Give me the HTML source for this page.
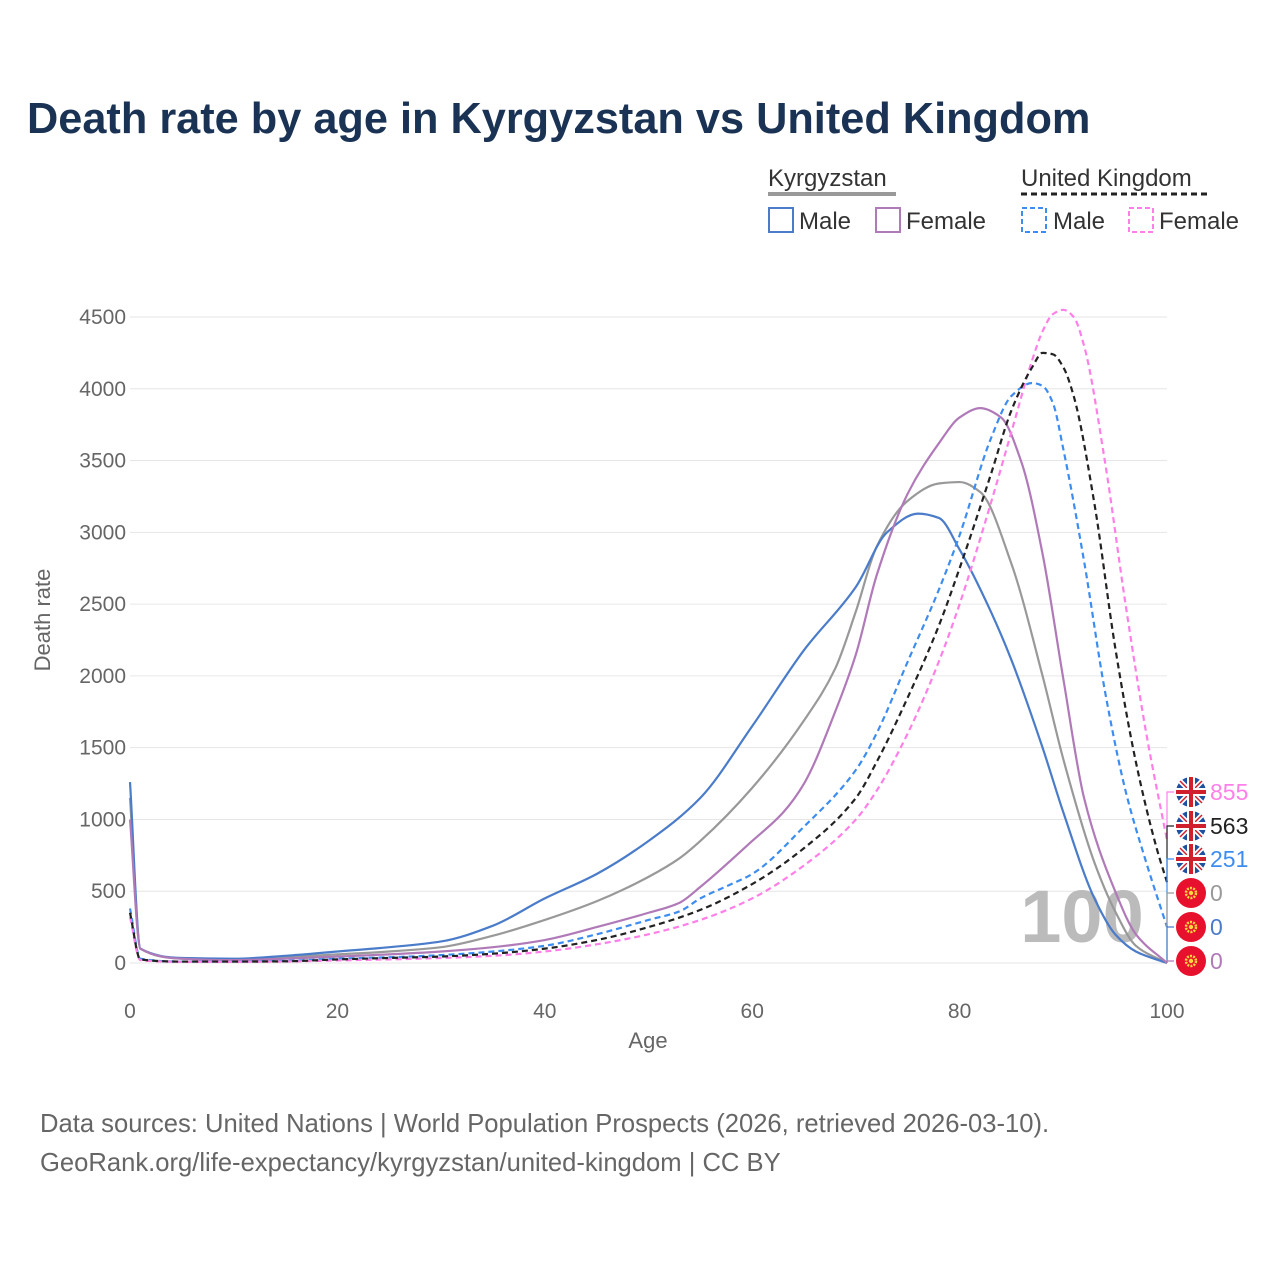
<!DOCTYPE html>
<html><head><meta charset="utf-8">
<style>
body{margin:0;background:#fff;font-family:"Liberation Sans",sans-serif;}
#wrap{position:relative;width:1280px;height:1280px;overflow:hidden;}
</style></head>
<body>
<div id="wrap">
<svg id="chart" width="1280" height="1280" xmlns="http://www.w3.org/2000/svg">
<text x="27" y="133" font-size="43.3" font-weight="bold" fill="#1a3354">Death rate by age in Kyrgyzstan vs United Kingdom</text>
<g>
<text x="768" y="186" font-size="24" fill="#333">Kyrgyzstan</text>
<line x1="768" y1="194" x2="896" y2="194" stroke="#999" stroke-width="4"/>
<text x="1021" y="186" font-size="24" fill="#333">United Kingdom</text>
<line x1="1021" y1="194" x2="1207" y2="194" stroke="#222" stroke-width="3" stroke-dasharray="6,4"/>
<g><rect x="769" y="208" width="24" height="24" fill="none" stroke="#4a7cc9" stroke-width="2"/><text x="799" y="229" font-size="24" fill="#333">Male</text></g>
<g><rect x="876" y="208" width="24" height="24" fill="none" stroke="#b07ab8" stroke-width="2"/><text x="906" y="229" font-size="24" fill="#333">Female</text></g>
<g><rect x="1022" y="208" width="24" height="24" fill="none" stroke="#3d8df0" stroke-width="2" stroke-dasharray="5,3"/><text x="1053" y="229" font-size="24" fill="#333">Male</text></g>
<g><rect x="1129" y="208" width="24" height="24" fill="none" stroke="#ff7fe8" stroke-width="2" stroke-dasharray="5,3"/><text x="1159" y="229" font-size="24" fill="#333">Female</text></g>
</g>
<g id="grid"></g>
<text x="1082" y="942" font-size="74" font-weight="bold" fill="#bbb" text-anchor="middle">100</text>
<g id="series"></g>
<g id="endlabels"></g>
<text x="648" y="1048" font-size="22" fill="#666" text-anchor="middle">Age</text>
<text transform="translate(50,620) rotate(-90)" font-size="22" fill="#666" text-anchor="middle">Death rate</text>
<text x="40" y="1132" font-size="25.6" fill="#666">Data sources: United Nations | World Population Prospects (2026, retrieved 2026-03-10).</text>
<text x="40" y="1171" font-size="25.6" fill="#666">GeoRank.org/life-expectancy/kyrgyzstan/united-kingdom | CC BY</text>
</svg>
</div>
<script>
const yTicks=[0,500,1000,1500,2000,2500,3000,3500,4000,4500];
const xTicks=[0,20,40,60,80,100];
const kgMaleAges=[0,1,5,10,15,20,25,30,35,40,45,50,55,60,65,70,73,76,78,80,83,85,88,90,93,95,97,100];
const kgMaleVals=[1260,100,35,30,50,80,110,150,260,450,620,850,1150,1650,2180,2620,3000,3130,3100,2880,2450,2110,1500,1050,450,200,80,0];
const kgFemaleAges=[0,1,5,10,15,20,25,30,35,40,45,50,53,55,60,63,65,68,70,72,75,78,80,82,84,86,88,90,92,95,97,100];
const kgFemaleVals=[1000,100,30,20,30,45,60,80,110,160,250,350,420,530,850,1050,1250,1750,2150,2700,3270,3620,3800,3865,3800,3480,2850,1980,1150,500,200,0];
const kgBothAges=[0,1,5,10,15,20,25,30,35,40,45,50,53,55,60,65,68,70,72,75,78,80,82,85,88,90,93,95,97,100];
const kgBothVals=[1150,100,30,25,40,60,80,110,190,300,430,600,730,850,1220,1690,2050,2450,2900,3220,3340,3350,3280,2780,2000,1420,700,360,120,0];
const ukMaleAges=[0,1,5,10,15,20,25,30,35,40,45,50,53,55,58,60,65,70,72,75,78,80,83,85,87,88,89,90,92,94,96,98,100];
const ukMaleVals=[380,30,10,10,15,30,40,55,80,120,200,300,360,450,550,620,950,1345,1600,2100,2600,2980,3650,3950,4040,4020,3900,3580,2800,1900,1200,700,251];
const ukBothAges=[0,1,5,10,15,20,25,30,35,40,45,50,55,60,65,70,72,75,78,80,83,85,87,88,89,90,91,93,95,97,99,100];
const ukBothVals=[350,25,10,10,12,25,35,45,65,100,160,250,370,550,800,1150,1400,1850,2350,2750,3400,3850,4150,4250,4240,4150,3950,3200,2200,1400,800,563];
const ukFemaleAges=[0,1,5,10,15,20,25,30,35,40,45,50,55,60,65,70,72,75,78,80,83,85,87,88,89,90,91,92,94,96,98,100];
const ukFemaleVals=[320,20,8,8,10,18,25,35,50,80,130,200,300,450,680,1000,1200,1600,2100,2500,3200,3700,4200,4400,4520,4550,4500,4300,3500,2500,1600,855];
const endValues=[855,563,251,0,0,0];

const NS="http://www.w3.org/2000/svg";
const X=a=>130+a*10.37;
const Y=v=>963-v*0.14356;
function mk(t,at,parent){const e=document.createElementNS(NS,t);for(const k in at)e.setAttribute(k,at[k]);parent.appendChild(e);return e;}
const grid=document.getElementById('grid');
yTicks.forEach(v=>{
  const l=mk('line',{x1:130,x2:1167,y1:Y(v),y2:Y(v),stroke:'#e6e6e6','stroke-width':1},grid);
  
  
  const t=mk('text',{x:126,y:Y(v)+7,'font-size':21,fill:'#666','text-anchor':'end'},grid);
  t.textContent=v;
  
  
});
xTicks.forEach(a=>{
  const t=mk('text',{x:X(a),y:1018,'font-size':21,fill:'#666','text-anchor':'middle'},grid);
  t.textContent=a;
  
  
});
// monotone cubic (Fritsch-Carlson) in pixel space
function pathFor(ages,vals){
  const xs=ages.map(X), ys=vals.map(Y), n=xs.length;
  const d=[],m=new Array(n);
  for(let i=0;i<n-1;i++)d.push((ys[i+1]-ys[i])/(xs[i+1]-xs[i]));
  m[0]=d[0];m[n-1]=d[n-2];
  for(let i=1;i<n-1;i++){
    if(d[i-1]*d[i]<=0)m[i]=0;
    else{const h0=xs[i]-xs[i-1],h1=xs[i+1]-xs[i];const w1=2*h1+h0,w2=h1+2*h0;m[i]=(w1+w2)/(w1/d[i-1]+w2/d[i]);}
  }
  let p='M'+xs[0]+','+ys[0];
  for(let i=0;i<n-1;i++){
    const h=(xs[i+1]-xs[i])/3;
    p+=' C'+(xs[i]+h)+','+(ys[i]+m[i]*h)+' '+(xs[i+1]-h)+','+(ys[i+1]-m[i+1]*h)+' '+xs[i+1]+','+ys[i+1];
  }
  return p;
}
const series=document.getElementById('series');
const defs=[
 [kgBothAges,kgBothVals,'#999',null,'line-kg-both'],
 [kgMaleAges,kgMaleVals,'#4a7cc9',null,'line-kg-male'],
 [kgFemaleAges,kgFemaleVals,'#b07ab8',null,'line-kg-female'],
 [ukMaleAges,ukMaleVals,'#3d8df0','6,4','line-uk-male'],
 [ukFemaleAges,ukFemaleVals,'#ff7fe8','6,4','line-uk-female'],
 [ukBothAges,ukBothVals,'#222','6,4','line-uk-both']
];
defs.forEach(s=>{
  const at={d:pathFor(s[0],s[1]),fill:'none',stroke:s[2],'stroke-width':2.2};
  if(s[3])at['stroke-dasharray']=s[3];
  const p=mk('path',at,series);
  
  
});
const el=document.getElementById('endlabels');
const labelYs=[792,826,859,893,927,961];
const cols=['#ff7fe8','#222','#3d8df0','#999','#4a7cc9','#b07ab8'];
const names=['uk-female','uk-both','uk-male','kg-both','kg-male','kg-female'];
endValues.forEach((v,i)=>{
  const g=mk('g',{},el);
  
  
  const ly=labelYs[i], vy=Y(v);
  mk('polyline',{points:`1167,${vy} 1167,${ly} 1174,${ly}`,fill:'none',stroke:cols[i],'stroke-width':1.2},g);
  const cx=1191;
  if(i<3){
    mk('circle',{cx:cx,cy:ly,r:15,fill:'#1f4fa0'},g);
    mk('line',{x1:cx-11,y1:ly-11,x2:cx+11,y2:ly+11,stroke:'#fff','stroke-width':5},g);
    mk('line',{x1:cx+11,y1:ly-11,x2:cx-11,y2:ly+11,stroke:'#fff','stroke-width':5},g);
    mk('line',{x1:cx-11,y1:ly-11,x2:cx+11,y2:ly+11,stroke:'#d0202e','stroke-width':1.5},g);
    mk('line',{x1:cx+11,y1:ly-11,x2:cx-11,y2:ly+11,stroke:'#d0202e','stroke-width':1.5},g);
    mk('line',{x1:cx-15,y1:ly,x2:cx+15,y2:ly,stroke:'#fff','stroke-width':8},g);
    mk('line',{x1:cx,y1:ly-15,x2:cx,y2:ly+15,stroke:'#fff','stroke-width':8},g);
    mk('line',{x1:cx-15,y1:ly,x2:cx+15,y2:ly,stroke:'#d0202e','stroke-width':4},g);
    mk('line',{x1:cx,y1:ly-15,x2:cx,y2:ly+15,stroke:'#d0202e','stroke-width':4},g);
  } else {
    mk('circle',{cx:cx,cy:ly,r:15,fill:'#e8112d'},g);
    mk('circle',{cx:cx,cy:ly,r:5,fill:'none',stroke:'#ffd83d','stroke-width':2.5,'stroke-dasharray':'2,1.2'},g);
    mk('circle',{cx:cx,cy:ly,r:2.2,fill:'#ffd83d'},g);
  }
  const t=mk('text',{x:1210,y:ly+8,'font-size':23,fill:cols[i]},g);
  t.textContent=v;
});
</script>
</body></html>
